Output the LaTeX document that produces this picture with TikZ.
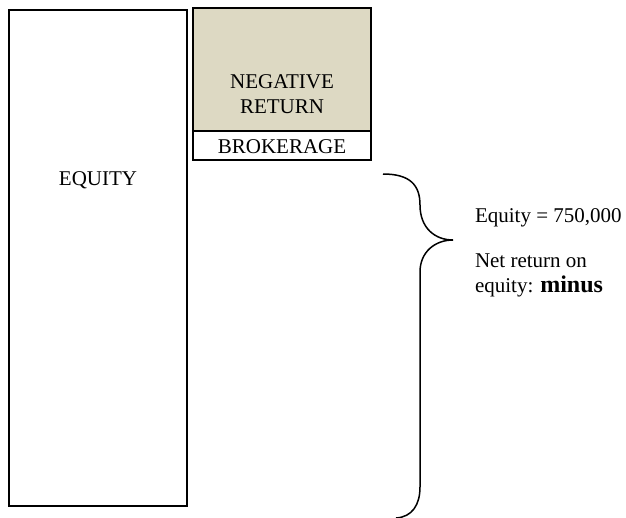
\documentclass[tikz,border=0pt]{standalone}
\usepackage{fontspec}
\setmainfont{Liberation Serif}
\definecolor{tan}{HTML}{DDD9C3}

\begin{document}
\begin{tikzpicture}[x=1pt,y=-1pt,every node/.style={inner sep=0pt,outer sep=0pt,font=\fontsize{21}{25}\selectfont},box/.style={draw,line width=2pt,rectangle},txt/.style={anchor=base}]
\useasboundingbox (0,0) rectangle (626,517);
\node[box,minimum width=178,minimum height=496] (equity) at (98,258) {};
\node[txt] (equitytext) at (98,185) {EQUITY};
\node[box,fill=tan,minimum width=178,minimum height=123] (negative) at (282,69.5) {};
\node[txt,align=center] (negativetext) at (282,113) {NEGATIVE\\RETURN};
\node[box,minimum width=178,minimum height=29,anchor=north] (brokerage) at (negative.south) {};
\node[txt] (brokeragetext) at (282,153) {BROKERAGE};
\draw[line width=1.5pt] (383,174) .. controls (410,174) and (420,185) .. (420,205) .. controls (420,228) and (435,240) .. (453,240) .. controls (435,240) and (420,252) .. (420,272) -- (420,487) .. controls (420,505) and (412,517) .. (396,518);
\node[txt,anchor=base west] (equityvalue) at (475,222) {Equity = 750,000};
\node[txt,anchor=base west,align=left] (netreturn) at (475,292) {Net return on\\equity: {\fontsize{24}{25}\selectfont\textbf{minus}}};
\end{tikzpicture}
\end{document}
